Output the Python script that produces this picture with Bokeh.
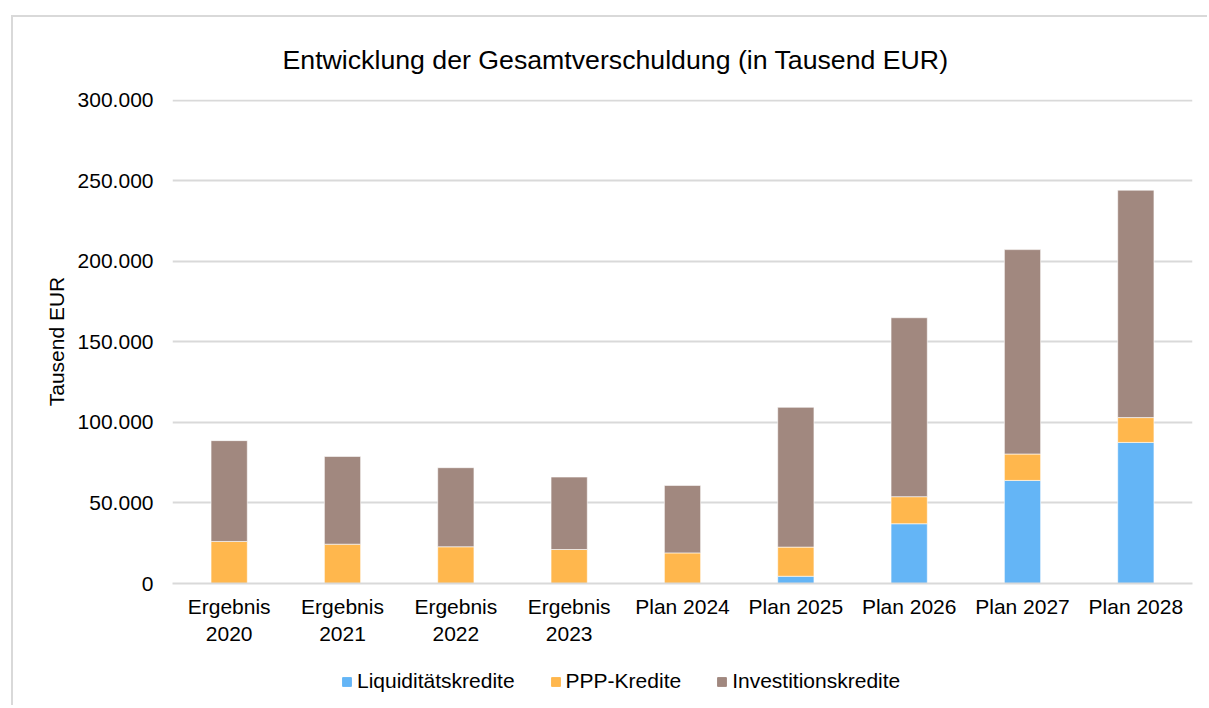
from bokeh.plotting import figure
from bokeh.layouts import column
from bokeh.models import ColumnDataSource, Legend, LegendItem, FixedTicker
from bokeh.embed import file_html
from bokeh.resources import INLINE

categories = ["Ergebnis\n2020", "Ergebnis\n2021", "Ergebnis\n2022", "Ergebnis\n2023",
              "Plan 2024", "Plan 2025", "Plan 2026", "Plan 2027", "Plan 2028"]
liquiditaetskredite = [0, 0, 0, 0, 0, 4500, 37100, 64000, 87600]
ppp_kredite = [26100, 24400, 22800, 21100, 19000, 18100, 16800, 16400, 15400]
investitionskredite = [62600, 54500, 49100, 45000, 41900, 86800, 111100, 126900, 141200]
series_names = ["Liquiditätskredite", "PPP-Kredite", "Investitionskredite"]
series_colors = ["#64b5f6", "#ffb74d", "#a1887f"]
y_ticks = [0, 50000, 100000, 150000, 200000, 250000, 300000]
y_tick_labels = ["0", "50.000", "100.000", "150.000", "200.000", "250.000", "300.000"]

FONT = "Liberation Sans"

source = ColumnDataSource(dict(cat=categories, liq=liquiditaetskredite,
                               ppp=ppp_kredite, inv=investitionskredite))

p = figure(x_range=categories, y_range=(0, 300500), width=1194, height=638,
           output_backend="svg", toolbar_location=None,
           title="Entwicklung der Gesamtverschuldung (in Tausend EUR)",
           min_border_left=159, min_border_right=15, min_border_top=81, min_border_bottom=72)

renderers = p.vbar_stack(["liq", "ppp", "inv"], x="cat", width=0.32, color=series_colors,
                         source=source, line_color="white", line_width=0.6)

p.title.text_font = FONT
p.title.text_font_size = "26.7px"
p.title.text_font_style = "normal"
p.title.text_color = "#000000"
p.title.align = "left"
p.title.offset = 110
p.title.standoff = 50

p.outline_line_color = None
p.background_fill_color = "white"
p.border_fill_color = "white"

p.xgrid.grid_line_color = None
p.ygrid.grid_line_color = "#d9d9d9"
p.ygrid.grid_line_width = 2

p.yaxis.ticker = FixedTicker(ticks=y_ticks)
p.yaxis.major_label_overrides = {t: l for t, l in zip(y_ticks, y_tick_labels)}
p.yaxis.axis_line_color = None
p.yaxis.major_tick_line_color = None
p.yaxis.minor_tick_line_color = None
p.yaxis.major_label_standoff = 13
p.yaxis.axis_label = "Tausend EUR"
p.yaxis.axis_label_standoff = 7
p.yaxis.axis_label_text_font = FONT
p.yaxis.axis_label_text_font_size = "21px"
p.yaxis.axis_label_text_font_style = "normal"
p.yaxis.axis_label_text_color = "#000000"

p.xaxis.axis_line_color = "#d9d9d9"
p.xaxis.axis_line_width = 2
p.xaxis.major_tick_line_color = None
p.xaxis.minor_tick_line_color = None
p.xaxis.major_label_standoff = 5

for ax in (p.xaxis, p.yaxis):
    ax.major_label_text_font = FONT
    ax.major_label_text_font_size = "21px"
    ax.major_label_text_color = "#000000"

# legend strip below the chart (swatch renderers sit outside the visible range)
lf = figure(width=1194, height=50, x_range=(0, 1), y_range=(0, 1),
            output_backend="svg", toolbar_location=None,
            min_border_left=0, min_border_right=0, min_border_top=0, min_border_bottom=0)
lf.axis.visible = False
lf.grid.visible = False
lf.outline_line_color = None
lf.border_fill_color = "white"
legend_renderers = [lf.vbar(x=[-10], top=[0], width=0.1, color=c) for c in series_colors]

legend = Legend(items=[LegendItem(label=n, renderers=[r]) for n, r in zip(series_names, legend_renderers)],
                orientation="horizontal", location=(169, 12))
legend.label_text_font = FONT
legend.label_text_font_size = "21px"
legend.label_text_color = "#000000"
legend.label_height = 24
legend.glyph_width = 11
legend.glyph_height = 11
legend.label_standoff = 5
legend.spacing = 35
legend.border_line_color = None
legend.background_fill_alpha = 0
legend.padding = 6
legend.margin = 0
lf.add_layout(legend, "center")

layout = column(p, lf, spacing=0)
layout.styles = {"margin-left": "11px", "margin-top": "15px",
                 "border-left": "2px solid #d9d9d9", "border-top": "2px solid #d9d9d9"}

open("out.html", "w").write(file_html(layout, INLINE))
